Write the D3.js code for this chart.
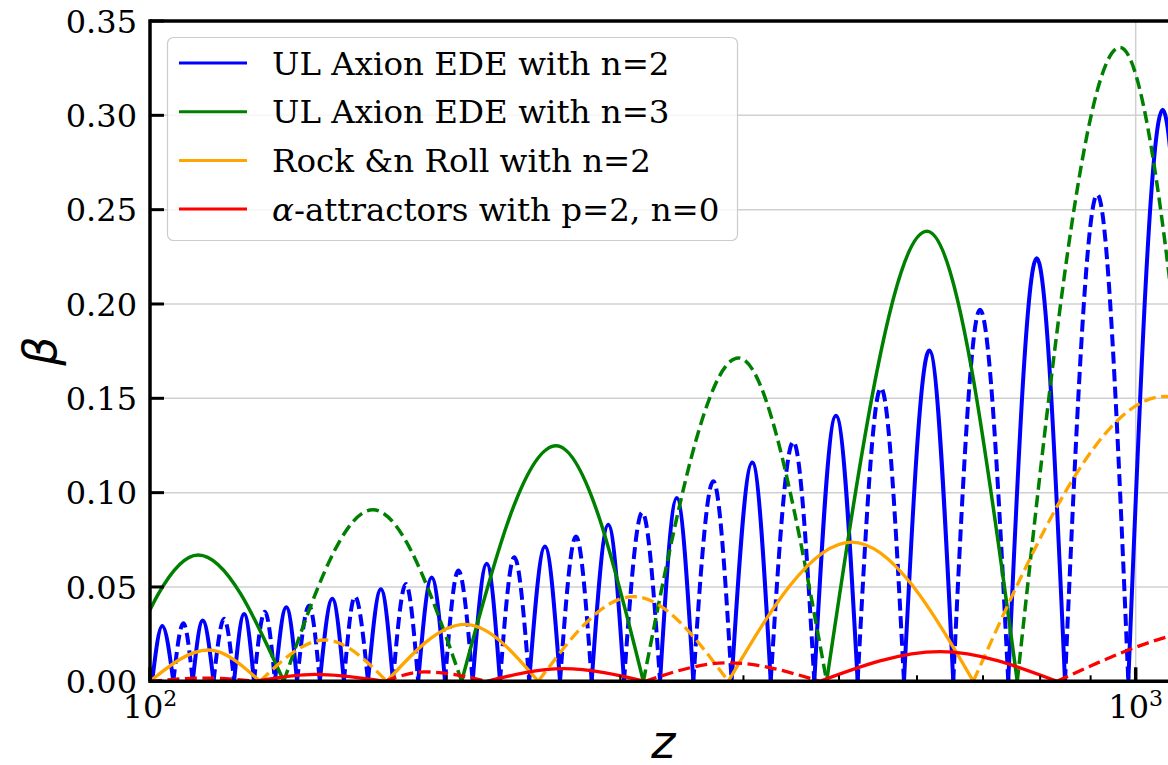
<!DOCTYPE html>
<meta charset="utf-8">
<script src="https://d3js.org/d3.v7.min.js"></script>
<style>
  body { margin: 0; background: #fff; }
  svg { display: block; }
</style>
<body>
<div id="my_dataviz"></div>
<script>
  // |beta|: zero crossings and the peak between each pair.
  // neg = 1 means the hump is negative beta (drawn dashed)

  // UL Axion EDE with n=2
  var blueZeros = [100.5, 105.6, 110.5, 116.0, 121.7, 127.5, 133.9, 141.0, 148.7, 157.3, 166.4,
    176.4, 187.1, 199.2, 212.5, 226.5, 242.5, 260.6, 280.6, 302.6, 329.2, 355.8, 389.1, 426.3,
    472.0, 522.3, 582.0, 653.0, 742.5, 847.8, 982.9, 1151];
  var bluePeakZ = [102.9, 108.1, 113.1, 118.9, 124.6, 130.8, 137.5, 145.0, 153.1, 161.4, 171.5,
    181.8, 193.1, 205.5, 219.6, 234.2, 251.6, 270.5, 291.7, 315.8, 342.3, 372.8, 408.3, 449.4,
    496.5, 551.5, 617.4, 695.1, 793.6, 914.2, 1065];
  var bluePeakB = [0.0293, 0.0308, 0.0322, 0.0331, 0.0357, 0.0369, 0.0393, 0.0401, 0.0437, 0.0449,
    0.0488, 0.0516, 0.0550, 0.0587, 0.0623, 0.0658, 0.0714, 0.0768, 0.0830, 0.0895, 0.0971, 0.106,
    0.116, 0.127, 0.1408, 0.1555, 0.1753, 0.197, 0.2243, 0.258, 0.303];
  var blueNeg = [0, 1, 0, 1, 0, 1, 0, 1, 0, 1, 0, 1, 0, 1, 0, 1, 0, 1, 0, 1, 0, 1, 0, 1, 0, 1, 0, 1, 0, 1, 0];

  // UL Axion EDE with n=3
  var greenZeros = [92.8, 136.7, 207.1, 316.6, 485.8, 758.3, 1191.6];
  var greenPeakZ = [111.9, 168.3, 258.2, 395.4, 614.1, 964.0];
  var greenPeakB = [0.067, 0.0909, 0.1249, 0.1714, 0.2385, 0.336];
  var greenNeg = [0, 1, 0, 1, 0, 1];

  // Rock &n Roll with n=2
  var orangeZeros = [100, 129.3, 173.9, 247.7, 386.1, 684.3, 1676];
  var orangePeakZ = [114.6, 150.5, 208.7, 309.3, 515.1, 1070.8];
  var orangePeakB = [0.0166, 0.0219, 0.0302, 0.0449, 0.0738, 0.151];
  var orangeNeg = [0, 1, 0, 1, 0, 1];

  // alpha-attractors with p=2, n=0
  var redZeros = [100, 127.8, 173.1, 219.7, 317.8, 478.3, 832.1, 1900];
  var redPeakZ = [113.7, 147.1, 190.1, 262.6, 385.8, 633.0, 1259];
  var redPeakB = [0.0017, 0.0037, 0.0050, 0.0067, 0.0098, 0.0157, 0.029];
  var redNeg = [1, 0, 1, 0, 1, 0, 1];

  var yTicks = [0, 0.05, 0.10, 0.15, 0.20, 0.25, 0.30, 0.35];
  var xMajor = [100, 1000];
  var xMajorLabels = ["2", "3"];
  var xMinor = [200, 300, 400, 500, 600, 700, 800, 900];
  var legendLabels = ["UL Axion EDE with n=2", "UL Axion EDE with n=3", "Rock &n Roll with n=2", "-attractors with p=2, n=0"];
  var colors = ["#0000ff", "#008000", "#ffa500", "#ff0000"];

  var w = 1168, h = 765;
  var pLeft = 150, pTop = 21, pBottom = 681.3, pRight = 1176.5;

  var svg = d3.select("#my_dataviz")
    .append("svg")
    .attr("width", w)
    .attr("height", h);

  var x = d3.scaleLog().domain([100, 1100]).range([pLeft, pRight]);
  var y = d3.scaleLinear().domain([0, 0.35]).range([pBottom, pTop]);

  // grid
  svg.append("g").selectAll("line")
    .data(yTicks.slice(1, -1))
    .enter().append("line")
    .attr("x1", pLeft).attr("x2", pRight)
    .attr("y1", function (d) { return y(d); })
    .attr("y2", function (d) { return y(d); })
    .attr("stroke", "#d0d0d0").attr("stroke-width", 1.5);
  svg.append("line")
    .attr("x1", x(1000)).attr("x2", x(1000))
    .attr("y1", pTop).attr("y2", pBottom)
    .attr("stroke", "#d0d0d0").attr("stroke-width", 1.5);

  svg.append("clipPath").attr("id", "clip")
    .append("rect")
    .attr("x", pLeft).attr("y", pTop)
    .attr("width", pRight - pLeft).attr("height", pBottom - pTop);

  var line = d3.line()
    .x(function (d) { return x(d[0]); })
    .y(function (d) { return y(d[1]); })
    .curve(d3.curveMonotoneX);

  function humps(zeros, pz, pb, neg) {
    return pz.map(function (z, i) {
      return { pts: [[zeros[i], 0], [z, pb[i]], [zeros[i + 1], 0]], neg: neg[i] };
    });
  }

  var series = [
    { data: humps(blueZeros, bluePeakZ, bluePeakB, blueNeg), lw: 4 },
    { data: humps(greenZeros, greenPeakZ, greenPeakB, greenNeg), lw: 3.5 },
    { data: humps(orangeZeros, orangePeakZ, orangePeakB, orangeNeg), lw: 3.3 },
    { data: humps(redZeros, redPeakZ, redPeakB, redNeg), lw: 3.3 }
  ];

  var plot = svg.append("g").attr("clip-path", "url(#clip)");
  series.forEach(function (s, k) {
    plot.append("g").selectAll("path")
      .data(s.data)
      .enter().append("path")
      .attr("d", function (d) { return line(d.pts); })
      .attr("fill", "none")
      .attr("stroke", colors[k])
      .attr("stroke-width", s.lw)
      .attr("stroke-dasharray", function (d) { return d.neg ? "12,5.5" : null; });
  });

  // spines
  svg.append("line").attr("x1", pLeft).attr("x2", pLeft).attr("y1", pTop - 1.75).attr("y2", pBottom + 1.75)
    .attr("stroke", "black").attr("stroke-width", 3.5);
  svg.append("line").attr("x1", pLeft).attr("x2", w).attr("y1", pBottom).attr("y2", pBottom)
    .attr("stroke", "black").attr("stroke-width", 3.5);
  svg.append("line").attr("x1", pLeft).attr("x2", w).attr("y1", pTop).attr("y2", pTop)
    .attr("stroke", "black").attr("stroke-width", 3.5);

  // y ticks (inward)
  svg.append("g").selectAll("line")
    .data(yTicks)
    .enter().append("line")
    .attr("x1", pLeft).attr("x2", pLeft + 14)
    .attr("y1", function (d) { return y(d); })
    .attr("y2", function (d) { return y(d); })
    .attr("stroke", "black").attr("stroke-width", 3);
  svg.append("g").selectAll("text")
    .data(yTicks)
    .enter().append("text")
    .text(function (d) { return d.toFixed(2); })
    .attr("x", 137)
    .attr("y", function (d) { return y(d) + 11.7; })
    .attr("text-anchor", "end")
    .attr("font-family", "DejaVu Serif")
    .attr("font-size", "32px");

  // x ticks
  svg.append("g").selectAll("line")
    .data(xMinor)
    .enter().append("line")
    .attr("x1", function (d) { return x(d); })
    .attr("x2", function (d) { return x(d); })
    .attr("y1", pBottom).attr("y2", pBottom - 6)
    .attr("stroke", "black").attr("stroke-width", 2);
  svg.append("g").selectAll("line")
    .data(xMajor)
    .enter().append("line")
    .attr("x1", function (d) { return x(d); })
    .attr("x2", function (d) { return x(d); })
    .attr("y1", pBottom).attr("y2", pBottom - 14)
    .attr("stroke", "black").attr("stroke-width", 3.5);
  var xl = svg.append("g").selectAll("text")
    .data(xMajor)
    .enter().append("text")
    .attr("x", function (d) { return x(d); })
    .attr("y", 718)
    .attr("text-anchor", "middle")
    .attr("font-family", "DejaVu Serif")
    .attr("font-size", "32px");
  xl.append("tspan").text("10");
  xl.append("tspan").text(function (d, i) { return xMajorLabels[i]; })
    .attr("font-size", "22px").attr("dy", -12);

  // axis labels
  svg.append("text")
    .text("z")
    .attr("x", (pLeft + pRight) / 2)
    .attr("y", 758)
    .attr("text-anchor", "middle")
    .attr("font-family", "DejaVu Sans")
    .attr("font-style", "italic")
    .attr("font-size", "46px");
  svg.append("text")
    .text("β")
    .attr("transform", "translate(56," + (pTop + pBottom) / 2 + ") rotate(-90)")
    .attr("text-anchor", "middle")
    .attr("font-family", "DejaVu Sans")
    .attr("font-style", "italic")
    .attr("font-size", "46px");

  // legend
  var lg = svg.append("g");
  lg.append("rect")
    .attr("x", 167.5).attr("y", 37.5)
    .attr("width", 570).attr("height", 203)
    .attr("rx", 6)
    .attr("fill", "white").attr("fill-opacity", 0.8)
    .attr("stroke", "#cccccc").attr("stroke-width", 1.2);
  var rows = lg.selectAll("g.row")
    .data(legendLabels)
    .enter().append("g")
    .attr("class", "row")
    .attr("transform", function (d, i) { return "translate(0," + (63 + i * 48.7) + ")"; });
  rows.append("line")
    .attr("x1", 179).attr("x2", 247)
    .attr("stroke", function (d, i) { return colors[i]; })
    .attr("stroke-width", 3);
  var lt = rows.append("text")
    .attr("x", 272)
    .attr("y", 11.7)
    .attr("font-family", "DejaVu Serif")
    .attr("font-size", "32.5px");
  lt.filter(function (d, i) { return i === 3; })
    .append("tspan").text("α").attr("font-style", "italic");
  lt.append("tspan").text(function (d) { return d; });
</script>
</body>
